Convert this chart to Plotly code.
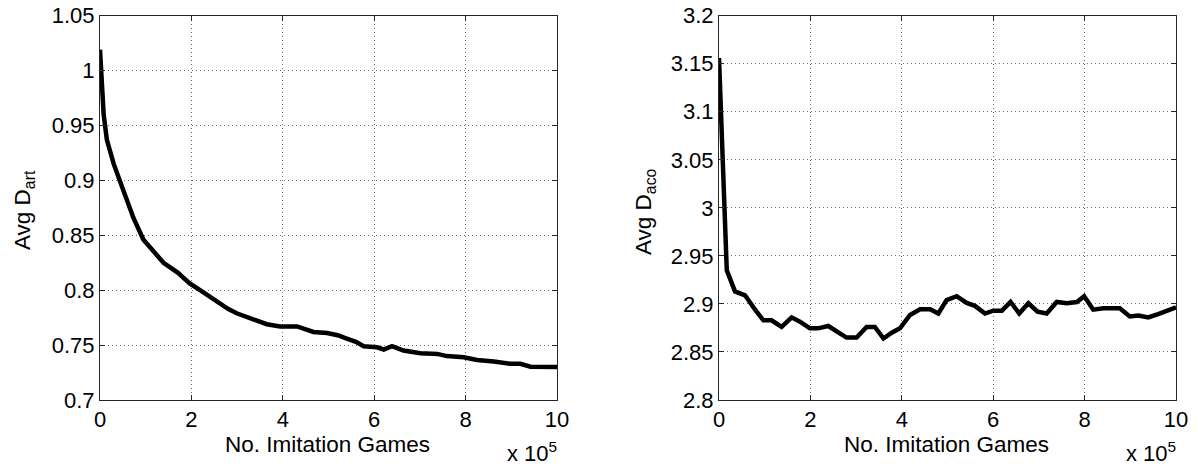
import plotly.graph_objects as go

# ---- data (x in units of 1e5 imitation games) ----
art_x = [0.0, 0.03, 0.08, 0.15, 0.3, 0.44, 0.6, 0.73, 0.95, 1.15, 1.39, 1.7, 1.97, 2.19, 2.4, 2.63, 2.8, 2.99, 3.22, 3.45, 3.65, 3.94, 4.31, 4.5, 4.67, 4.97, 5.2, 5.4, 5.6, 5.77, 6.06, 6.21, 6.39, 6.64, 7.01, 7.38, 7.59, 7.96, 8.25, 8.62, 8.98, 9.2, 9.42, 10.0]
art_y = [1.019, 0.99, 0.96, 0.937, 0.915, 0.899, 0.882, 0.866, 0.846, 0.836, 0.825, 0.816, 0.806, 0.8, 0.794, 0.787, 0.783, 0.779, 0.776, 0.772, 0.769, 0.767, 0.767, 0.764, 0.762, 0.761, 0.759, 0.756, 0.753, 0.749, 0.748, 0.746, 0.749, 0.745, 0.7425, 0.742, 0.74, 0.739, 0.7365, 0.735, 0.733, 0.733, 0.7303, 0.730]

aco_x = [0.0, 0.06, 0.17, 0.35, 0.57, 0.79, 0.97, 1.15, 1.37, 1.59, 1.77, 1.99, 2.17, 2.39, 2.58, 2.79, 3.01, 3.23, 3.41, 3.6, 3.78, 3.96, 4.18, 4.4, 4.62, 4.8, 4.98, 5.2, 5.42, 5.6, 5.82, 6.0, 6.19, 6.38, 6.57, 6.77, 6.97, 7.17, 7.39, 7.61, 7.83, 7.99, 8.19, 8.41, 8.77, 8.99, 9.18, 9.39, 9.61, 9.83, 10.0]
aco_y = [3.156, 3.078, 2.935, 2.913, 2.909, 2.894, 2.883, 2.883, 2.876, 2.886, 2.8815, 2.8746, 2.8746, 2.877, 2.871, 2.865, 2.865, 2.876, 2.876, 2.864, 2.870, 2.8746, 2.8885, 2.8944, 2.8944, 2.890, 2.904, 2.908, 2.901, 2.898, 2.890, 2.893, 2.893, 2.902, 2.890, 2.9007, 2.892, 2.890, 2.902, 2.9007, 2.902, 2.908, 2.894, 2.8954, 2.8954, 2.887, 2.888, 2.886, 2.8895, 2.894, 2.8965]

x_ticks = [0, 2, 4, 6, 8, 10]
art_ticks = [0.7, 0.75, 0.8, 0.85, 0.9, 0.95, 1.0, 1.05]
art_ticktext = ["0.7", "0.75", "0.8", "0.85", "0.9", "0.95", "1", "1.05"]
aco_ticks = [2.8, 2.85, 2.9, 2.95, 3.0, 3.05, 3.1, 3.15, 3.2]
aco_ticktext = ["2.8", "2.85", "2.9", "2.95", "3", "3.05", "3.1", "3.15", "3.2"]

# page body has an 8px margin: the figure starts at (8, 8) in the window
OFF = 8
W, H = 1198 - OFF, 466 - OFF
FONT = "Liberation Sans, Arial, sans-serif"
FS_TICK = 22
FS_TITLE = 22.5

def px(v):
    return (v - OFF) / W

def py(v):
    return 1 - (v - OFF) / H

ydom = [py(400), py(15.7)]

fig = go.Figure()
fig.add_trace(go.Scatter(x=art_x, y=art_y, mode="lines", line=dict(color="black", width=4.5),
                         xaxis="x", yaxis="y", showlegend=False))
fig.add_trace(go.Scatter(x=aco_x, y=aco_y, mode="lines", line=dict(color="black", width=4.5),
                         xaxis="x2", yaxis="y2", showlegend=False))

axis_common = dict(
    showline=True, linecolor="#262626", linewidth=1, mirror="ticks",
    ticks="inside", ticklen=5, tickcolor="#262626",
    showgrid=True, gridcolor="#6e6e6e", griddash="1px,3px", gridwidth=1,
    zeroline=False, automargin=False, ticklabeloverflow="allow",
    tickfont=dict(family=FONT, size=FS_TICK, color="black"),
)

fig.update_layout(
    width=W, height=H, autosize=False,
    margin=dict(l=0, r=0, t=0, b=0, pad=0, autoexpand=False),
    paper_bgcolor="white", plot_bgcolor="white",
    xaxis=dict(domain=[px(100), px(557)], range=[0, 10], tickvals=x_ticks, anchor="y", **axis_common),
    yaxis=dict(domain=ydom, range=[0.7, 1.05], tickvals=art_ticks, ticktext=art_ticktext, anchor="x", **axis_common),
    xaxis2=dict(domain=[px(719), px(1176)], range=[0, 10], tickvals=x_ticks, anchor="y2", **axis_common),
    yaxis2=dict(domain=ydom, range=[2.8, 3.2], tickvals=aco_ticks, ticktext=aco_ticktext, anchor="x2", **axis_common),
)

ann_font = dict(family=FONT, size=FS_TITLE, color="black")
sup_font = dict(family=FONT, size=FS_TICK, color="black")
anns = [
    dict(x=px(327), y=py(444), text="No. Imitation Games", xanchor="center", yanchor="middle", font=ann_font),
    dict(x=px(946), y=py(444), text="No. Imitation Games", xanchor="center", yanchor="middle", font=ann_font),
    dict(x=px(559), y=py(452), text="x 10<sup>5</sup>", xanchor="right", yanchor="middle", font=sup_font),
    dict(x=px(1178), y=py(452), text="x 10<sup>5</sup>", xanchor="right", yanchor="middle", font=sup_font),
    dict(x=px(24), y=py(210), text="Avg D<sub>art</sub>", textangle=-90, xanchor="center", yanchor="middle", font=ann_font),
    dict(x=px(645), y=py(212), text="Avg D<sub>aco</sub>", textangle=-90, xanchor="center", yanchor="middle", font=ann_font),
]
for a in anns:
    fig.add_annotation(xref="paper", yref="paper", showarrow=False, **a)

fig.write_html("out.html")
